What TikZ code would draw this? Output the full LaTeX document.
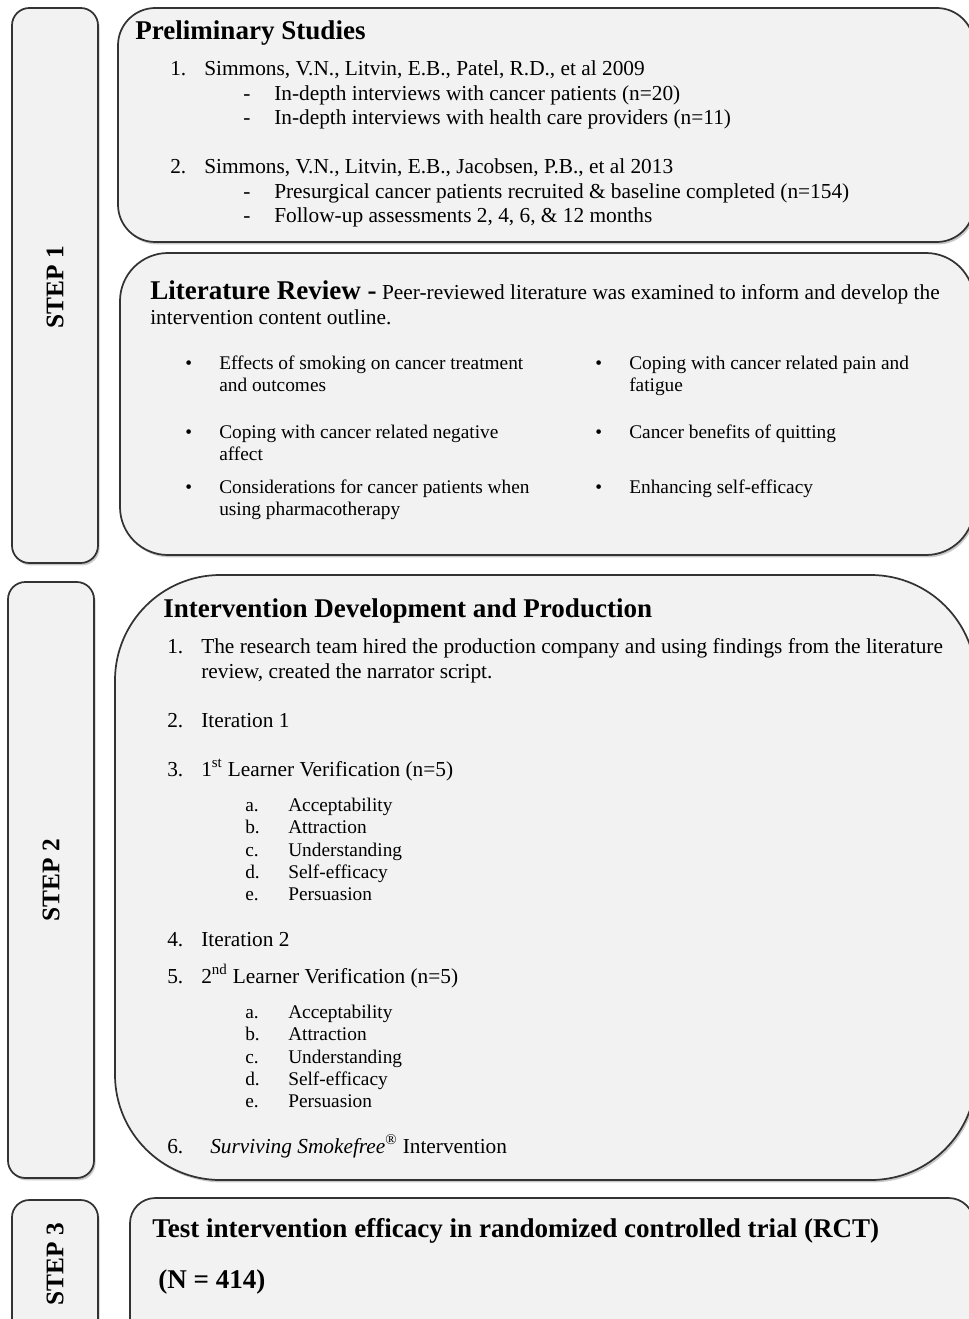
\documentclass[tikz,border=0pt]{standalone}
\usepackage{fontspec}
\setmainfont{Liberation Serif}
\usetikzlibrary{shadows}
\definecolor{boxfill}{HTML}{F2F2F2}
\definecolor{edgec}{HTML}{333333}
\begin{document}
\begin{tikzpicture}[x=0.75pt,y=-0.75pt,
  box/.style={draw=edgec, line width=1.3pt, fill=boxfill,
    drop shadow={shadow xshift=1.2pt, shadow yshift=-1.8pt, opacity=0.3, fill=black!70}},
  txt/.style={inner sep=0pt, anchor=base west, font=\fontsize{16}{18}\selectfont},
  sm/.style={inner sep=0pt, anchor=base west, font=\fontsize{14.5}{17}\selectfont},
  hd/.style={inner sep=0pt, anchor=base west, font=\fontsize{20.3}{24}\selectfont\bfseries},
  steplbl/.style={rotate=90, font=\fontsize{19}{22}\selectfont\bfseries, inner sep=0pt}]
\useasboundingbox (0,0) rectangle (969,1319);
\begin{scope}
\clip (0,0) rectangle (969,1319);
% left step boxes
\path[box, rounded corners=13pt] (12,8) rectangle (98,563);
\path[box, rounded corners=13pt] (8,582) rectangle (94,1178);
\path[box, rounded corners=13pt] (12,1200) rectangle (98,1340);
% right boxes
\path[box, rounded corners=28pt] (118,8) rectangle (974,242);
\path[box, rounded corners=36pt] (120,253) rectangle (974,555);
\path[box, rounded corners=79pt] (115,575) rectangle (976,1180);
\path[box, rounded corners=19pt] (130,1198) rectangle (974,1345);
\end{scope}
% step labels
\node[steplbl] (s1) at (55,287) {STEP 1};
\node[steplbl] (s2) at (51,880) {STEP 2};
\node[steplbl] (s3) at (55,1264) {STEP 3};
% Preliminary studies
\node[hd] (ph) at (135,40) {Preliminary Studies};
\node[txt] (p1n) at (170,76) {1.};
\node[txt] (p1) at (204,76) {Simmons, V.N., Litvin, E.B., Patel, R.D., et al 2009};
\node[txt] (p1ad) at (243,101) {-};
\node[txt] (p1a) at (274,101) {In-depth interviews with cancer patients (n=20)};
\node[txt] (p1bd) at (243,125) {-};
\node[txt] (p1b) at (274,125) {In-depth interviews with health care providers (n=11)};
\node[txt] (p2n) at (170,174) {2.};
\node[txt] (p2) at (204,174) {Simmons, V.N., Litvin, E.B., Jacobsen, P.B., et al 2013};
\node[txt] (p2ad) at (243,199) {-};
\node[txt] (p2a) at (274,199) {Presurgical cancer patients recruited \& baseline completed (n=154)};
\node[txt] (p2bd) at (243,223) {-};
\node[txt] (p2b) at (274,223) {Follow-up assessments 2, 4, 6, \& 12 months};
% Literature review
\node[txt] (lh) at (150,300) {{\fontsize{20.3}{24}\selectfont\bfseries Literature Review -} Peer-reviewed literature was examined to inform and develop the};
\node[txt] (lh2) at (150,325) {intervention content outline.};
\node[sm] (b1d) at (185,369) {\textbullet};
\node[sm] (b1) at (219,369) {Effects of smoking on cancer treatment};
\node[sm] (b1b) at (219,391) {and outcomes};
\node[sm] (b2d) at (185,438) {\textbullet};
\node[sm] (b2) at (219,438) {Coping with cancer related negative};
\node[sm] (b2b) at (219,460) {affect};
\node[sm] (b3d) at (185,493) {\textbullet};
\node[sm] (b3) at (219,493) {Considerations for cancer patients when};
\node[sm] (b3b) at (219,515) {using pharmacotherapy};
\node[sm] (c1d) at (595,369) {\textbullet};
\node[sm] (c1) at (629,369) {Coping with cancer related pain and};
\node[sm] (c1b) at (629,391) {fatigue};
\node[sm] (c2d) at (595,438) {\textbullet};
\node[sm] (c2) at (629,438) {Cancer benefits of quitting};
\node[sm] (c3d) at (595,493) {\textbullet};
\node[sm] (c3) at (629,493) {Enhancing self-efficacy};
% Intervention development
\node[hd] (ih) at (163,617) {Intervention Development and Production};
\node[txt] (i1n) at (167,653) {1.};
\node[txt] (i1) at (201,653) {The research team hired the production company and using findings from the literature};
\node[txt] (i1b) at (201,678) {review, created the narrator script.};
\node[txt] (i2n) at (167,727) {2.};
\node[txt] (i2) at (201,727) {Iteration 1};
\node[txt] (i3n) at (167,776) {3.};
\node[txt] (i3) at (201,776) {1\textsuperscript{st} Learner Verification (n=5)};
\node[sm] (i3an) at (245,811) {a.};
\node[sm] (i3a) at (288,811) {Acceptability};
\node[sm] (i3bn) at (245,833) {b.};
\node[sm] (i3b) at (288,833) {Attraction};
\node[sm] (i3cn) at (245,856) {c.};
\node[sm] (i3c) at (288,856) {Understanding};
\node[sm] (i3dn) at (245,878) {d.};
\node[sm] (i3d) at (288,878) {Self-efficacy};
\node[sm] (i3en) at (245,900) {e.};
\node[sm] (i3e) at (288,900) {Persuasion};
\node[txt] (i4n) at (167,946) {4.};
\node[txt] (i4) at (201,946) {Iteration 2};
\node[txt] (i5n) at (167,983) {5.};
\node[txt] (i5) at (201,983) {2\textsuperscript{nd} Learner Verification (n=5)};
\node[sm] (i5an) at (245,1018) {a.};
\node[sm] (i5a) at (288,1018) {Acceptability};
\node[sm] (i5bn) at (245,1040) {b.};
\node[sm] (i5b) at (288,1040) {Attraction};
\node[sm] (i5cn) at (245,1063) {c.};
\node[sm] (i5c) at (288,1063) {Understanding};
\node[sm] (i5dn) at (245,1085) {d.};
\node[sm] (i5d) at (288,1085) {Self-efficacy};
\node[sm] (i5en) at (245,1107) {e.};
\node[sm] (i5e) at (288,1107) {Persuasion};
\node[txt] (i6n) at (167,1153) {6.};
\node[txt] (i6) at (210,1153) {\textit{Surviving Smokefree}\textsuperscript{®} Intervention};
% Step 3
\node[hd] (th) at (152,1237) {Test intervention efficacy in randomized controlled trial (RCT)};
\node[hd] (tn) at (158,1288) {(N = 414)};
\end{tikzpicture}
\end{document}
